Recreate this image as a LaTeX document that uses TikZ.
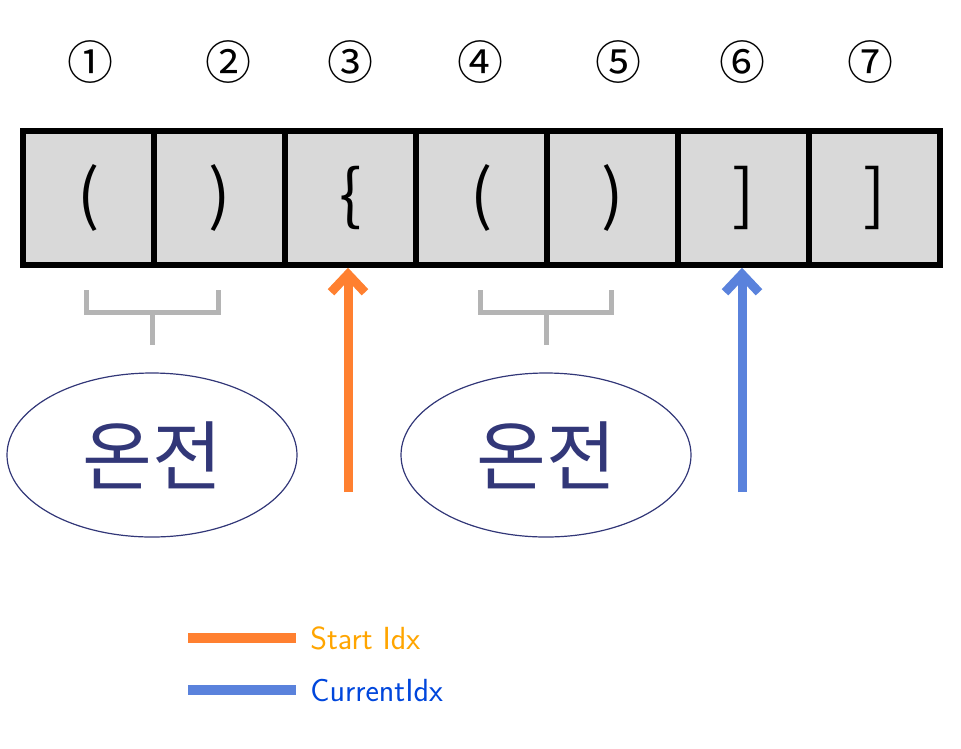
\documentclass[tikz,border=0pt]{standalone}
\usepackage{fontspec}
\newfontfamily\symfont{Noto Sans CJK KR}
\newfontfamily\kofont{Noto Sans CJK KR}
\usetikzlibrary{arrows.meta,positioning,shapes.geometric}
\definecolor{cellgray}{RGB}{217,217,217}
\definecolor{brkgray}{RGB}{180,180,180}
\definecolor{startorange}{RGB}{255,128,48}
\definecolor{curblue}{RGB}{90,130,220}
\definecolor{koblue}{RGB}{50,55,120}
\definecolor{txtorange}{RGB}{255,165,0}
\definecolor{txtblue}{RGB}{0,70,220}
\tikzset{
  cell/.style={draw=black,fill=cellgray,line width=5.5pt,minimum width=131pt,minimum height=134pt,inner sep=0pt,font=\kofont\fontsize{66}{66}\selectfont},
  idx/.style={font=\symfont\fontsize{46}{46}\selectfont},
  okbox/.style={draw=koblue,line width=1.2pt,ellipse,minimum width=290pt,minimum height=164pt,font=\kofont\fontsize{76}{76}\selectfont,text=koblue},
  brk/.style={brkgray,line width=5pt},
  ptr/.style={line width=9pt,-{Straight Barb[length=18pt,width=34pt,line width=9pt]}},
  lgtext/.style={right=6pt,font=\sffamily\fontsize{32}{32}\selectfont}
}
\begin{document}
\begin{tikzpicture}[x=1pt,y=1pt,yscale=-1]
\useasboundingbox (0,0) rectangle (961,748);

% cells
\foreach \ch [count=\i] in {{(},{)},{\{},{(},{)},{]},{]}}
  \node[cell] (c\i) at (88.5+131*\i-131,198) {\ch};

% index numbers
\foreach \xx [count=\i] in {90,228,350,480,618,742,870}
  \node[idx] (n\i) at (\xx,62) {\ifcase\i\or①\or②\or③\or④\or⑤\or⑥\or⑦\fi};

% brackets
\draw[brk] (86,290) -- (86,312) -- (218,312) -- (218,290) (152,312) -- (152,345);
\draw[brk] (480,290) -- (480,312) -- (611,312) -- (611,290) (546,312) -- (546,345);

% ellipses
\node[okbox] (ok1) at (152,455) {온전};
\node[okbox] (ok2) at (546,455) {온전};

% pointers
\coordinate (sp) at (348,492);
\coordinate (cp) at (742,492);
\draw[ptr,startorange] (sp) -- (sp |- c3.south);
\draw[ptr,curblue] (cp) -- (cp |- c6.south);

% legend
\coordinate (l1) at (188,638);
\coordinate (l2) at (188,690);
\draw[startorange,line width=10pt] (l1) -- ++(108,0) node[lgtext,text=txtorange] (lg1) {Start Idx};
\draw[curblue,line width=10pt] (l2) -- ++(108,0) node[lgtext,text=txtblue] (lg2) {CurrentIdx};
\end{tikzpicture}
\end{document}
